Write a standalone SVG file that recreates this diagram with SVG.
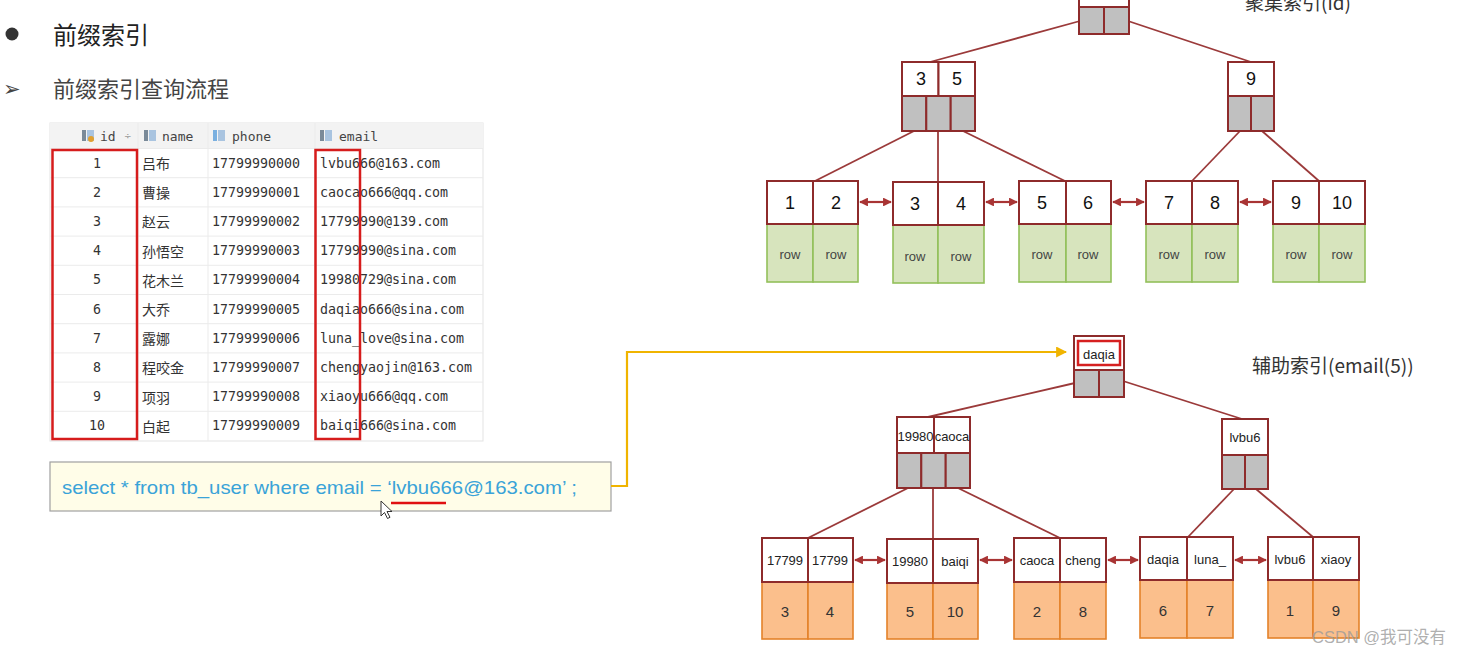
<svg xmlns="http://www.w3.org/2000/svg" width="1463" height="656" viewBox="0 0 1463 656">
<defs>
<style>
.nb{fill:#fff;stroke:#8e2b2b;stroke-width:2}
.gc{fill:#c0c0c0;stroke:#8e2b2b;stroke-width:2}
.gr{fill:#d7e4bd;stroke:#93c05a;stroke-width:1.6}
.or{fill:#fbbf8c;stroke:#e4822a;stroke-width:1.6}
.ln{stroke:#9b3a3a;stroke-width:1.8;fill:none}
.ar{stroke:#a83434;stroke-width:2.2;fill:none;marker-start:url(#ah);marker-end:url(#ah)}
.num{font-family:"Liberation Sans",Arial,sans-serif;font-size:18px;fill:#111;text-anchor:middle;dominant-baseline:central}
.row{font-family:"Liberation Sans",Arial,sans-serif;font-size:13px;fill:#444;text-anchor:middle;dominant-baseline:central}
.sk{font-family:"Liberation Sans",Arial,sans-serif;font-size:13px;fill:#222;text-anchor:middle;dominant-baseline:central}
.sv{font-family:"Liberation Sans",Arial,sans-serif;font-size:15px;fill:#333;text-anchor:middle;dominant-baseline:central}
.mono{font-family:"DejaVu Sans Mono","Liberation Mono",monospace;font-size:13.3px;fill:#333;dominant-baseline:central}
.cn{font-family:"Noto Sans CJK SC","Noto Sans",sans-serif;font-size:14px;fill:#333;dominant-baseline:central}
.hd{font-family:"DejaVu Sans Mono","Liberation Mono",monospace;font-size:13px;fill:#444;dominant-baseline:central}
.tl{stroke:#ebebeb;stroke-width:1}
.rb{fill:none;stroke:#d61c1c;stroke-width:2.5}
</style>
<marker id="ah" viewBox="0 0 10 10" refX="9" refY="5" markerWidth="4" markerHeight="4" orient="auto-start-reverse" markerUnits="strokeWidth">
<path d="M0,0 L10,5 L0,10 z" fill="#a83434"/>
</marker>
<marker id="ya" viewBox="0 0 10 10" refX="9" refY="5" markerWidth="5" markerHeight="5" orient="auto" markerUnits="strokeWidth">
<path d="M0,0 L10,5 L0,10 z" fill="#f0b400"/>
</marker>
</defs>
<rect width="1463" height="656" fill="#fff"/>

<g id="heading">
<circle cx="12" cy="34" r="6.5" fill="#333"/>
<text x="53" y="44" font-family="'Noto Sans CJK SC',sans-serif" font-size="24" fill="#222">前缀索引</text>
<text x="3" y="96" font-family="'DejaVu Sans',sans-serif" font-size="21" fill="#444">➢</text>
<text x="53" y="97" font-family="'Noto Sans CJK SC',sans-serif" font-size="22" fill="#444">前缀索引查询流程</text>
</g>

<g id="table">
<rect x="50" y="123" width="433" height="318" fill="#fff" stroke="#e3e3e3"/>
<rect x="50" y="123" width="433" height="25.5" fill="#f3f3f3"/>
<line class="tl" x1="50" y1="148.5" x2="483" y2="148.5"/>
<line class="tl" x1="50" y1="177.7" x2="483" y2="177.7"/>
<line class="tl" x1="50" y1="206.9" x2="483" y2="206.9"/>
<line class="tl" x1="50" y1="236.1" x2="483" y2="236.1"/>
<line class="tl" x1="50" y1="265.3" x2="483" y2="265.3"/>
<line class="tl" x1="50" y1="294.5" x2="483" y2="294.5"/>
<line class="tl" x1="50" y1="323.7" x2="483" y2="323.7"/>
<line class="tl" x1="50" y1="352.9" x2="483" y2="352.9"/>
<line class="tl" x1="50" y1="382.1" x2="483" y2="382.1"/>
<line class="tl" x1="50" y1="411.3" x2="483" y2="411.3"/>
<line class="tl" x1="138" y1="123" x2="138" y2="441"/>
<line class="tl" x1="208" y1="123" x2="208" y2="441"/>
<line class="tl" x1="315" y1="123" x2="315" y2="441"/>
<rect x="82" y="130" width="4" height="11" fill="#7a8a99"/><rect x="87" y="130" width="7" height="11" fill="#a9c4e0"/><circle cx="91" cy="139" r="3" fill="#e0a030"/>
<rect x="144" y="130" width="4" height="11" fill="#7a8a99"/><rect x="149" y="130" width="7" height="11" fill="#a9c4e0"/>
<rect x="213" y="130" width="4" height="11" fill="#7ab0e0"/><rect x="218" y="130" width="7" height="11" fill="#a9c4e0"/>
<rect x="320" y="130" width="4" height="11" fill="#7a8a99"/><rect x="325" y="130" width="7" height="11" fill="#a9c4e0"/>
<text class="hd" x="100" y="136">id</text>
<text x="124" y="136" font-family="'DejaVu Sans',sans-serif" font-size="9" fill="#999" dominant-baseline="central">÷</text>
<text class="hd" x="162" y="136">name</text>
<text class="hd" x="232" y="136">phone</text>
<text class="hd" x="339" y="136">email</text>
<g class="mono" text-anchor="middle">
<text x="97" y="163">1</text><text x="97" y="192.2">2</text><text x="97" y="221.4">3</text><text x="97" y="250.6">4</text><text x="97" y="279.8">5</text>
<text x="97" y="309">6</text><text x="97" y="338.2">7</text><text x="97" y="367.4">8</text><text x="97" y="396.6">9</text><text x="97" y="425.8">10</text>
</g>
<g class="cn">
<text x="142" y="163">吕布</text><text x="142" y="192.2">曹操</text><text x="142" y="221.4">赵云</text><text x="142" y="250.6">孙悟空</text><text x="142" y="279.8">花木兰</text>
<text x="142" y="309">大乔</text><text x="142" y="338.2">露娜</text><text x="142" y="367.4">程咬金</text><text x="142" y="396.6">项羽</text><text x="142" y="425.8">白起</text>
</g>
<g class="mono">
<text x="212" y="163">17799990000</text><text x="212" y="192.2">17799990001</text><text x="212" y="221.4">17799990002</text><text x="212" y="250.6">17799990003</text><text x="212" y="279.8">17799990004</text>
<text x="212" y="309">17799990005</text><text x="212" y="338.2">17799990006</text><text x="212" y="367.4">17799990007</text><text x="212" y="396.6">17799990008</text><text x="212" y="425.8">17799990009</text>
</g>
<g class="mono">
<text x="320" y="163">lvbu666@163.com</text><text x="320" y="192.2">caocao666@qq.com</text><text x="320" y="221.4">17799990@139.com</text><text x="320" y="250.6">17799990@sina.com</text><text x="320" y="279.8">19980729@sina.com</text>
<text x="320" y="309">daqiao666@sina.com</text><text x="320" y="338.2">luna_love@sina.com</text><text x="320" y="367.4">chengyaojin@163.com</text><text x="320" y="396.6">xiaoyu666@qq.com</text><text x="320" y="425.8">baiqi666@sina.com</text>
</g>
<rect class="rb" x="52.5" y="150" width="84.5" height="289"/>
<rect class="rb" x="315.5" y="150" width="44.5" height="289"/>
</g>

<g id="sql">
<rect x="50" y="462" width="561" height="49" fill="#fffde8" stroke="#a0a0a0" stroke-width="1.2"/>
<text x="62" y="494" font-family="'Liberation Sans',Arial,sans-serif" font-size="19" fill="#3aa3d8" textLength="515" lengthAdjust="spacingAndGlyphs">select * from tb_user where email = ‘lvbu666@163.com’ ;</text>
<line x1="391" y1="503" x2="446" y2="503" stroke="#e01010" stroke-width="2.5"/>
<path d="M381,501 L381,516 L384.5,512.5 L387.5,518.5 L390,517.3 L387,511.5 L392,511.5 Z" fill="#fff" stroke="#333" stroke-width="1"/>
</g>

<g id="connectors">
<path d="M611,486 H627 V352 H1066" fill="none" stroke="#f0b400" stroke-width="2.2" marker-end="url(#ya)"/>
<line class="ln" x1="1080" y1="21" x2="930" y2="62"/>
<line class="ln" x1="1128" y1="21" x2="1251" y2="62"/>
<line class="ln" x1="914" y1="131" x2="815" y2="181"/>
<line class="ln" x1="938" y1="131" x2="938" y2="182"/>
<line class="ln" x1="963" y1="131" x2="1065" y2="181"/>
<line class="ln" x1="1240" y1="131" x2="1192" y2="181"/>
<line class="ln" x1="1262" y1="131" x2="1319" y2="181"/>
<line class="ar" x1="860" y1="202" x2="891" y2="202"/>
<line class="ar" x1="986" y1="202" x2="1017" y2="202"/>
<line class="ar" x1="1113" y1="202" x2="1144" y2="202"/>
<line class="ar" x1="1240" y1="202" x2="1271" y2="202"/>
<line class="ln" x1="1075" y1="383" x2="928" y2="417"/>
<line class="ln" x1="1123" y1="381" x2="1242" y2="419"/>
<line class="ln" x1="908" y1="488" x2="808" y2="538"/>
<line class="ln" x1="933" y1="488" x2="933" y2="538"/>
<line class="ln" x1="958" y1="488" x2="1060" y2="538"/>
<line class="ln" x1="1234" y1="489" x2="1188" y2="537"/>
<line class="ln" x1="1256" y1="489" x2="1313" y2="537"/>
<line class="ar" x1="855" y1="560" x2="885" y2="560"/>
<line class="ar" x1="980" y1="560" x2="1012" y2="560"/>
<line class="ar" x1="1108" y1="560" x2="1138" y2="560"/>
<line class="ar" x1="1235" y1="560" x2="1266" y2="560"/>
</g>

<g id="title-clustered">
<text x="1245" y="10" font-family="'Noto Sans CJK SC','Liberation Sans',sans-serif" font-size="19" fill="#333">聚集索引(id)</text>
</g>

<g id="c-root">
<rect class="nb" x="1079" y="-30" width="50" height="37"/>
<rect class="gc" x="1079" y="7" width="25" height="27"/>
<rect class="gc" x="1104" y="7" width="25" height="27"/>
</g>
<g id="c-n35">
<rect class="nb" x="902" y="62" width="36.5" height="34"/>
<rect class="nb" x="938.5" y="62" width="36.5" height="34"/>
<rect class="gc" x="902" y="96" width="24.3" height="35"/>
<rect class="gc" x="926.3" y="96" width="24.4" height="35"/>
<rect class="gc" x="950.7" y="96" width="24.3" height="35"/>
<text class="num" x="921" y="79">3</text>
<text class="num" x="957" y="79">5</text>
</g>
<g id="c-n9">
<rect class="nb" x="1228" y="62" width="46" height="34"/>
<rect class="gc" x="1228" y="96" width="23" height="35"/>
<rect class="gc" x="1251" y="96" width="23" height="35"/>
<text class="num" x="1251" y="79">9</text>
</g>

<g id="c-leaf1">
<rect class="gr" x="767" y="224" width="46" height="58"/><rect class="gr" x="813" y="224" width="45" height="58"/>
<rect class="nb" x="767" y="181" width="46" height="43"/><rect class="nb" x="813" y="181" width="45" height="43"/>
<text class="num" x="790" y="203">1</text><text class="num" x="836" y="203">2</text>
<text class="row" x="790" y="254">row</text><text class="row" x="836" y="254">row</text>
</g>
<g id="c-leaf2">
<rect class="gr" x="893" y="225" width="45" height="58"/><rect class="gr" x="938" y="225" width="46" height="58"/>
<rect class="nb" x="893" y="182" width="45" height="43"/><rect class="nb" x="938" y="182" width="46" height="43"/>
<text class="num" x="915" y="204">3</text><text class="num" x="961" y="204">4</text>
<text class="row" x="915" y="256">row</text><text class="row" x="961" y="256">row</text>
</g>
<g id="c-leaf3">
<rect class="gr" x="1019" y="224" width="47" height="58"/><rect class="gr" x="1066" y="224" width="45" height="58"/>
<rect class="nb" x="1019" y="181" width="47" height="43"/><rect class="nb" x="1066" y="181" width="45" height="43"/>
<text class="num" x="1042" y="203">5</text><text class="num" x="1088" y="203">6</text>
<text class="row" x="1042" y="254">row</text><text class="row" x="1088" y="254">row</text>
</g>
<g id="c-leaf4">
<rect class="gr" x="1146" y="224" width="46" height="58"/><rect class="gr" x="1192" y="224" width="46" height="58"/>
<rect class="nb" x="1146" y="181" width="46" height="43"/><rect class="nb" x="1192" y="181" width="46" height="43"/>
<text class="num" x="1169" y="203">7</text><text class="num" x="1215" y="203">8</text>
<text class="row" x="1169" y="254">row</text><text class="row" x="1215" y="254">row</text>
</g>
<g id="c-leaf5">
<rect class="gr" x="1273" y="224" width="46" height="58"/><rect class="gr" x="1319" y="224" width="46" height="58"/>
<rect class="nb" x="1273" y="181" width="46" height="43"/><rect class="nb" x="1319" y="181" width="46" height="43"/>
<text class="num" x="1296" y="203">9</text><text class="num" x="1342" y="203">10</text>
<text class="row" x="1296" y="254">row</text><text class="row" x="1342" y="254">row</text>
</g>

<g id="title-secondary">
<text x="1252" y="373" font-family="'Noto Sans CJK SC','Liberation Sans',sans-serif" font-size="19" fill="#333">辅助索引(email(5))</text>
</g>

<g id="s-root">
<rect class="nb" x="1074" y="336" width="50" height="34"/>
<rect x="1078" y="341" width="42" height="24" fill="none" stroke="#d62020" stroke-width="2.5"/>
<text class="sk" x="1099" y="354">daqia</text>
<rect class="gc" x="1074" y="370" width="25" height="27"/>
<rect class="gc" x="1099" y="370" width="25" height="27"/>
</g>
<g id="s-n19980">
<rect class="nb" x="897" y="417" width="37" height="36"/>
<rect class="nb" x="934" y="417" width="36" height="36"/>
<text class="sk" x="915.5" y="436" font-size="11.5">19980</text>
<text class="sk" x="952" y="436" font-size="11.5">caoca</text>
<rect class="gc" x="897" y="453" width="24.3" height="35"/>
<rect class="gc" x="921.3" y="453" width="24.4" height="35"/>
<rect class="gc" x="945.7" y="453" width="24.3" height="35"/>
</g>
<g id="s-nlvbu6">
<rect class="nb" x="1222" y="419" width="46" height="36"/>
<text class="sk" x="1245" y="437">lvbu6</text>
<rect class="gc" x="1222" y="455" width="23" height="34"/>
<rect class="gc" x="1245" y="455" width="23" height="34"/>
</g>

<g id="s-leaf1">
<rect class="or" x="762" y="582" width="46" height="57"/><rect class="or" x="808" y="582" width="45" height="57"/>
<rect class="nb" x="762" y="538" width="46" height="44"/><rect class="nb" x="808" y="538" width="45" height="44"/>
<text class="sk" x="785" y="560">17799</text><text class="sk" x="830" y="560">17799</text>
<text class="sv" x="785" y="611">3</text><text class="sv" x="830" y="611">4</text>
</g>
<g id="s-leaf2">
<rect class="or" x="887" y="583" width="46" height="56"/><rect class="or" x="933" y="583" width="45" height="56"/>
<rect class="nb" x="887" y="539" width="46" height="44"/><rect class="nb" x="933" y="539" width="45" height="44"/>
<text class="sk" x="910" y="561">19980</text><text class="sk" x="955" y="561">baiqi</text>
<text class="sv" x="910" y="611">5</text><text class="sv" x="955" y="611">10</text>
</g>
<g id="s-leaf3">
<rect class="or" x="1014" y="582" width="46" height="57"/><rect class="or" x="1060" y="582" width="46" height="57"/>
<rect class="nb" x="1014" y="538" width="46" height="44"/><rect class="nb" x="1060" y="538" width="46" height="44"/>
<text class="sk" x="1037" y="560">caoca</text><text class="sk" x="1083" y="560">cheng</text>
<text class="sv" x="1037" y="611">2</text><text class="sv" x="1083" y="611">8</text>
</g>
<g id="s-leaf4">
<rect class="or" x="1140" y="580" width="47" height="58"/><rect class="or" x="1187" y="580" width="46" height="58"/>
<rect class="nb" x="1140" y="537" width="47" height="43"/><rect class="nb" x="1187" y="537" width="46" height="43"/>
<text class="sk" x="1163" y="559">daqia</text><text class="sk" x="1210" y="559">luna_</text>
<text class="sv" x="1163" y="610">6</text><text class="sv" x="1210" y="610">7</text>
</g>
<g id="s-leaf5">
<rect class="or" x="1268" y="580" width="45" height="58"/><rect class="or" x="1313" y="580" width="46" height="58"/>
<rect class="nb" x="1268" y="537" width="45" height="43"/><rect class="nb" x="1313" y="537" width="46" height="43"/>
<text class="sk" x="1290" y="559">lvbu6</text><text class="sk" x="1336" y="559">xiaoy</text>
<text class="sv" x="1290" y="610">1</text><text class="sv" x="1336" y="610">9</text>
</g>

<g id="watermark">
<text x="1312" y="643" font-family="'Liberation Sans','Noto Sans CJK SC',sans-serif" font-size="16.5" fill="#9a9a9a" fill-opacity="0.8">CSDN @我可没有</text>
</g>
</svg>
